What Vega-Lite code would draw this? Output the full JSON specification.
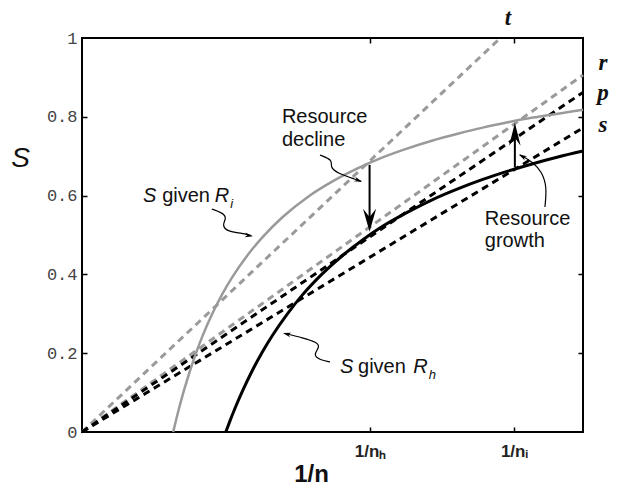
{
  "$schema": "https://vega.github.io/schema/vega-lite/v6.json",
  "width": 501,
  "height": 394,
  "autosize": {"type": "none"},
  "padding": {"left": 82, "top": 38, "right": 36, "bottom": 53},
  "background": "white",
  "config": {
    "view": {"stroke": "black", "strokeWidth": 2},
    "axis": {"grid": false, "domain": false, "tickColor": "black", "tickWidth": 1.5}
  },
  "resolve": {"axis": {"x": "independent", "y": "independent"}},
  "layer": [
    {
      "data": {"values": [
        {"line": "t", "x": 0, "y": 0}, {"line": "t", "x": 0.835, "y": 1},
        {"line": "r", "x": 0, "y": 0}, {"line": "r", "x": 1, "y": 0.906}
      ]},
      "mark": {"type": "line", "color": "#9a9a9a", "strokeWidth": 3, "strokeDash": [7, 5]},
      "encoding": {
        "x": {"field": "x", "type": "quantitative", "scale": {"domain": [0, 1], "nice": false, "zero": false},
          "axis": {"orient": "bottom", "values": [0.575, 0.862],
            "labelExpr": "datum.value < 0.7 ? '1/nₕ' : '1/nᵢ'",
            "labelFont": "Liberation Sans", "labelFontWeight": "bold", "labelFontSize": 17, "labelColor": "#222",
            "ticks": false, "labelPadding": 11,
            "title": "1/n", "titleFont": "Liberation Sans", "titleFontSize": 24, "titleFontWeight": "bold", "titleColor": "#111",
            "titleX": 229, "titleY": 42, "titleBaseline": "middle", "titleAlign": "center"}},
        "y": {"field": "y", "type": "quantitative", "scale": {"domain": [0, 1], "nice": false, "zero": false},
          "axis": {"orient": "left", "values": [0, 0.2, 0.4, 0.6, 0.8, 1], "format": "~g",
            "labelFont": "Liberation Mono", "labelFontSize": 17, "labelColor": "#444",
            "ticks": false, "labelPadding": 5,
            "title": "S", "titleFont": "Liberation Sans", "titleFontStyle": "italic", "titleFontSize": 28, "titleFontWeight": "normal", "titleColor": "#111",
            "titleAngle": 0, "titleX": -62, "titleY": 120, "titleAlign": "center", "titleBaseline": "middle"}},
        "detail": {"field": "line"}
      }
    },
    {
      "data": {"values": [
        {"line": "p", "x": 0, "y": 0}, {"line": "p", "x": 1, "y": 0.862},
        {"line": "s", "x": 0, "y": 0}, {"line": "s", "x": 1, "y": 0.772}
      ]},
      "mark": {"type": "line", "color": "black", "strokeWidth": 3, "strokeDash": [7, 5]},
      "encoding": {
        "x": {"field": "x", "type": "quantitative", "scale": {"domain": [0, 1], "nice": false, "zero": false},
          "axis": {"orient": "top", "values": [0.575, 0.862], "labels": false, "tickSize": 5, "offset": -5, "title": null}},
        "y": {"field": "y", "type": "quantitative", "scale": {"domain": [0, 1], "nice": false, "zero": false},
          "axis": {"orient": "right", "values": [0.2, 0.4, 0.6, 0.8], "labels": false, "tickSize": 5, "offset": -5, "title": null}},
        "detail": {"field": "line"}
      }
    },
    {
      "data": {"values": [
        {"x": 0.182, "y": 0}, {"x": 0.19, "y": 0.042}, {"x": 0.2, "y": 0.09}, {"x": 0.21, "y": 0.133},
        {"x": 0.225, "y": 0.191}, {"x": 0.24, "y": 0.242}, {"x": 0.26, "y": 0.3}, {"x": 0.28, "y": 0.35},
        {"x": 0.3, "y": 0.393}, {"x": 0.33, "y": 0.448}, {"x": 0.36, "y": 0.494}, {"x": 0.4, "y": 0.545},
        {"x": 0.45, "y": 0.596}, {"x": 0.5, "y": 0.636}, {"x": 0.55, "y": 0.669}, {"x": 0.6, "y": 0.697},
        {"x": 0.65, "y": 0.72}, {"x": 0.7, "y": 0.74}, {"x": 0.75, "y": 0.757}, {"x": 0.8, "y": 0.7725},
        {"x": 0.85, "y": 0.786}, {"x": 0.9, "y": 0.798}, {"x": 0.95, "y": 0.808}, {"x": 1, "y": 0.818}
      ]},
      "mark": {"type": "line", "color": "#9a9a9a", "strokeWidth": 2.5, "interpolate": "monotone"},
      "encoding": {
        "x": {"field": "x", "type": "quantitative", "scale": {"domain": [0, 1], "nice": false, "zero": false},
          "axis": {"orient": "bottom", "values": [0.575, 0.862], "labels": false, "tickSize": 5, "offset": -5, "title": null}},
        "y": {"field": "y", "type": "quantitative", "scale": {"domain": [0, 1], "nice": false, "zero": false},
          "axis": {"orient": "left", "values": [0.2, 0.4, 0.6, 0.8], "labels": false, "tickSize": 5, "offset": -5, "title": null}}
      }
    },
    {
      "data": {"values": [
        {"x": 0.287, "y": 0}, {"x": 0.295, "y": 0.027}, {"x": 0.305, "y": 0.059}, {"x": 0.32, "y": 0.103},
        {"x": 0.34, "y": 0.156}, {"x": 0.36, "y": 0.203}, {"x": 0.38, "y": 0.245}, {"x": 0.41, "y": 0.3},
        {"x": 0.44, "y": 0.348}, {"x": 0.48, "y": 0.402}, {"x": 0.52, "y": 0.448}, {"x": 0.56, "y": 0.4875},
        {"x": 0.6, "y": 0.522}, {"x": 0.65, "y": 0.558}, {"x": 0.7, "y": 0.59}, {"x": 0.75, "y": 0.617},
        {"x": 0.8, "y": 0.641}, {"x": 0.85, "y": 0.662}, {"x": 0.9, "y": 0.681}, {"x": 0.95, "y": 0.698},
        {"x": 1, "y": 0.713}
      ]},
      "mark": {"type": "line", "color": "black", "strokeWidth": 3, "interpolate": "monotone"},
      "encoding": {
        "x": {"field": "x", "type": "quantitative", "scale": {"domain": [0, 1], "nice": false, "zero": false}, "axis": null},
        "y": {"field": "y", "type": "quantitative", "scale": {"domain": [0, 1], "nice": false, "zero": false}, "axis": null}
      }
    },
    {
      "data": {"values": [
        {"arrow": "decline", "x": 0.574, "y": 0.678}, {"arrow": "decline", "x": 0.574, "y": 0.53},
        {"arrow": "growth", "x": 0.864, "y": 0.672}, {"arrow": "growth", "x": 0.864, "y": 0.765}
      ]},
      "mark": {"type": "line", "color": "black", "strokeWidth": 2},
      "encoding": {
        "x": {"field": "x", "type": "quantitative", "scale": {"domain": [0, 1], "nice": false, "zero": false}, "axis": null},
        "y": {"field": "y", "type": "quantitative", "scale": {"domain": [0, 1], "nice": false, "zero": false}, "axis": null},
        "detail": {"field": "arrow"}
      }
    },
    {
      "data": {"values": [{"x": 0.574, "y": 0.508}]},
      "mark": {"type": "point", "shape": "M0,0 L-0.57,2 L0,1.3 L0.57,2 Z", "filled": true, "color": "black", "opacity": 1, "size": 529, "angle": 180},
      "encoding": {
        "x": {"field": "x", "type": "quantitative", "scale": {"domain": [0, 1], "nice": false, "zero": false}, "axis": null},
        "y": {"field": "y", "type": "quantitative", "scale": {"domain": [0, 1], "nice": false, "zero": false}, "axis": null}
      }
    },
    {
      "data": {"values": [{"x": 0.864, "y": 0.785}]},
      "mark": {"type": "point", "shape": "M0,0 L-0.5,2 L0,1.3 L0.5,2 Z", "filled": true, "color": "black", "opacity": 1, "size": 529, "angle": 0},
      "encoding": {
        "x": {"field": "x", "type": "quantitative", "scale": {"domain": [0, 1], "nice": false, "zero": false}, "axis": null},
        "y": {"field": "y", "type": "quantitative", "scale": {"domain": [0, 1], "nice": false, "zero": false}, "axis": null}
      }
    },
    {
      "data": {"values": [
        {"leader": "decline", "i": 0, "x": 0.475, "y": 0.703},
        {"leader": "decline", "i": 1, "x": 0.501, "y": 0.69},
        {"leader": "decline", "i": 2, "x": 0.495, "y": 0.673},
        {"leader": "decline", "i": 3, "x": 0.509, "y": 0.657},
        {"leader": "decline", "i": 4, "x": 0.549, "y": 0.64},
        {"leader": "decline", "i": 5, "x": 0.557, "y": 0.636},
        {"leader": "growth", "i": 0, "x": 0.924, "y": 0.571},
        {"leader": "growth", "i": 1, "x": 0.928, "y": 0.622},
        {"leader": "growth", "i": 2, "x": 0.918, "y": 0.66},
        {"leader": "growth", "i": 3, "x": 0.9, "y": 0.685},
        {"leader": "growth", "i": 4, "x": 0.878, "y": 0.701},
        {"leader": "growth", "i": 5, "x": 0.874, "y": 0.703},
        {"leader": "Ri", "i": 0, "x": 0.259, "y": 0.566},
        {"leader": "Ri", "i": 1, "x": 0.281, "y": 0.556},
        {"leader": "Ri", "i": 2, "x": 0.289, "y": 0.543},
        {"leader": "Ri", "i": 3, "x": 0.279, "y": 0.525},
        {"leader": "Ri", "i": 4, "x": 0.291, "y": 0.508},
        {"leader": "Ri", "i": 5, "x": 0.321, "y": 0.505},
        {"leader": "Ri", "i": 6, "x": 0.338, "y": 0.498},
        {"leader": "Rh", "i": 0, "x": 0.495, "y": 0.178},
        {"leader": "Rh", "i": 1, "x": 0.475, "y": 0.183},
        {"leader": "Rh", "i": 2, "x": 0.461, "y": 0.195},
        {"leader": "Rh", "i": 3, "x": 0.475, "y": 0.216},
        {"leader": "Rh", "i": 4, "x": 0.469, "y": 0.228},
        {"leader": "Rh", "i": 5, "x": 0.441, "y": 0.239},
        {"leader": "Rh", "i": 6, "x": 0.405, "y": 0.25}
      ]},
      "mark": {"type": "line", "color": "black", "strokeWidth": 1.2, "interpolate": "basis"},
      "encoding": {
        "x": {"field": "x", "type": "quantitative", "scale": {"domain": [0, 1], "nice": false, "zero": false}, "axis": null},
        "y": {"field": "y", "type": "quantitative", "scale": {"domain": [0, 1], "nice": false, "zero": false}, "axis": null},
        "detail": {"field": "leader"},
        "order": {"field": "i", "type": "quantitative"}
      }
    },
    {
      "data": {"values": [{"x": 0.559, "y": 0.635}]},
      "mark": {"type": "point", "shape": "M0,0 L-0.6,2 L0,1.4 L0.6,2 Z", "filled": true, "color": "black", "opacity": 1, "size": 64, "angle": 110},
      "encoding": {
        "x": {"field": "x", "type": "quantitative", "scale": {"domain": [0, 1], "nice": false, "zero": false}, "axis": null},
        "y": {"field": "y", "type": "quantitative", "scale": {"domain": [0, 1], "nice": false, "zero": false}, "axis": null}
      }
    },
    {
      "data": {"values": [{"x": 0.872, "y": 0.704}]},
      "mark": {"type": "point", "shape": "M0,0 L-0.6,2 L0,1.4 L0.6,2 Z", "filled": true, "color": "black", "opacity": 1, "size": 64, "angle": 298},
      "encoding": {
        "x": {"field": "x", "type": "quantitative", "scale": {"domain": [0, 1], "nice": false, "zero": false}, "axis": null},
        "y": {"field": "y", "type": "quantitative", "scale": {"domain": [0, 1], "nice": false, "zero": false}, "axis": null}
      }
    },
    {
      "data": {"values": [{"x": 0.341, "y": 0.497}]},
      "mark": {"type": "point", "shape": "M0,0 L-0.6,2 L0,1.4 L0.6,2 Z", "filled": true, "color": "black", "opacity": 1, "size": 64, "angle": 100},
      "encoding": {
        "x": {"field": "x", "type": "quantitative", "scale": {"domain": [0, 1], "nice": false, "zero": false}, "axis": null},
        "y": {"field": "y", "type": "quantitative", "scale": {"domain": [0, 1], "nice": false, "zero": false}, "axis": null}
      }
    },
    {
      "data": {"values": [{"x": 0.401, "y": 0.251}]},
      "mark": {"type": "point", "shape": "M0,0 L-0.6,2 L0,1.4 L0.6,2 Z", "filled": true, "color": "black", "opacity": 1, "size": 64, "angle": 284},
      "encoding": {
        "x": {"field": "x", "type": "quantitative", "scale": {"domain": [0, 1], "nice": false, "zero": false}, "axis": null},
        "y": {"field": "y", "type": "quantitative", "scale": {"domain": [0, 1], "nice": false, "zero": false}, "axis": null}
      }
    },
    {
      "data": {"values": [
        {"label": "Resource", "x": 0.399, "y": 0.784},
        {"label": "decline", "x": 0.399, "y": 0.726},
        {"label": "Resource", "x": 0.804, "y": 0.525},
        {"label": "growth", "x": 0.804, "y": 0.47},
        {"label": "given", "x": 0.16, "y": 0.584},
        {"label": "given", "x": 0.551, "y": 0.15}
      ]},
      "mark": {"type": "text", "font": "Liberation Sans", "fontSize": 20, "color": "#111", "align": "left", "baseline": "alphabetic"},
      "encoding": {
        "x": {"field": "x", "type": "quantitative", "scale": {"domain": [0, 1], "nice": false, "zero": false}, "axis": null},
        "y": {"field": "y", "type": "quantitative", "scale": {"domain": [0, 1], "nice": false, "zero": false}, "axis": null},
        "text": {"field": "label"}
      }
    },
    {
      "data": {"values": [
        {"label": "S", "x": 0.122, "y": 0.584},
        {"label": "R", "x": 0.265, "y": 0.584},
        {"label": "S", "x": 0.515, "y": 0.15},
        {"label": "R", "x": 0.661, "y": 0.15}
      ]},
      "mark": {"type": "text", "font": "Liberation Sans", "fontSize": 20, "fontStyle": "italic", "color": "#111", "align": "left", "baseline": "alphabetic"},
      "encoding": {
        "x": {"field": "x", "type": "quantitative", "scale": {"domain": [0, 1], "nice": false, "zero": false}, "axis": null},
        "y": {"field": "y", "type": "quantitative", "scale": {"domain": [0, 1], "nice": false, "zero": false}, "axis": null},
        "text": {"field": "label"}
      }
    },
    {
      "data": {"values": [
        {"label": "i", "x": 0.296, "y": 0.569},
        {"label": "h", "x": 0.692, "y": 0.135}
      ]},
      "mark": {"type": "text", "font": "Liberation Sans", "fontSize": 13, "fontStyle": "italic", "color": "#111", "align": "left", "baseline": "alphabetic"},
      "encoding": {
        "x": {"field": "x", "type": "quantitative", "scale": {"domain": [0, 1], "nice": false, "zero": false}, "axis": null},
        "y": {"field": "y", "type": "quantitative", "scale": {"domain": [0, 1], "nice": false, "zero": false}, "axis": null},
        "text": {"field": "label"}
      }
    },
    {
      "data": {"values": [
        {"label": "t", "x": 0.85, "y": 1.051},
        {"label": "r", "x": 1.04, "y": 0.937},
        {"label": "p", "x": 1.04, "y": 0.86},
        {"label": "s", "x": 1.04, "y": 0.779}
      ]},
      "mark": {"type": "text", "font": "Liberation Serif", "fontSize": 23, "fontStyle": "italic", "fontWeight": "bold", "color": "#111", "align": "center", "baseline": "middle"},
      "encoding": {
        "x": {"field": "x", "type": "quantitative", "scale": {"domain": [0, 1], "nice": false, "zero": false}, "axis": null},
        "y": {"field": "y", "type": "quantitative", "scale": {"domain": [0, 1], "nice": false, "zero": false}, "axis": null},
        "text": {"field": "label"}
      }
    }
  ]
}
